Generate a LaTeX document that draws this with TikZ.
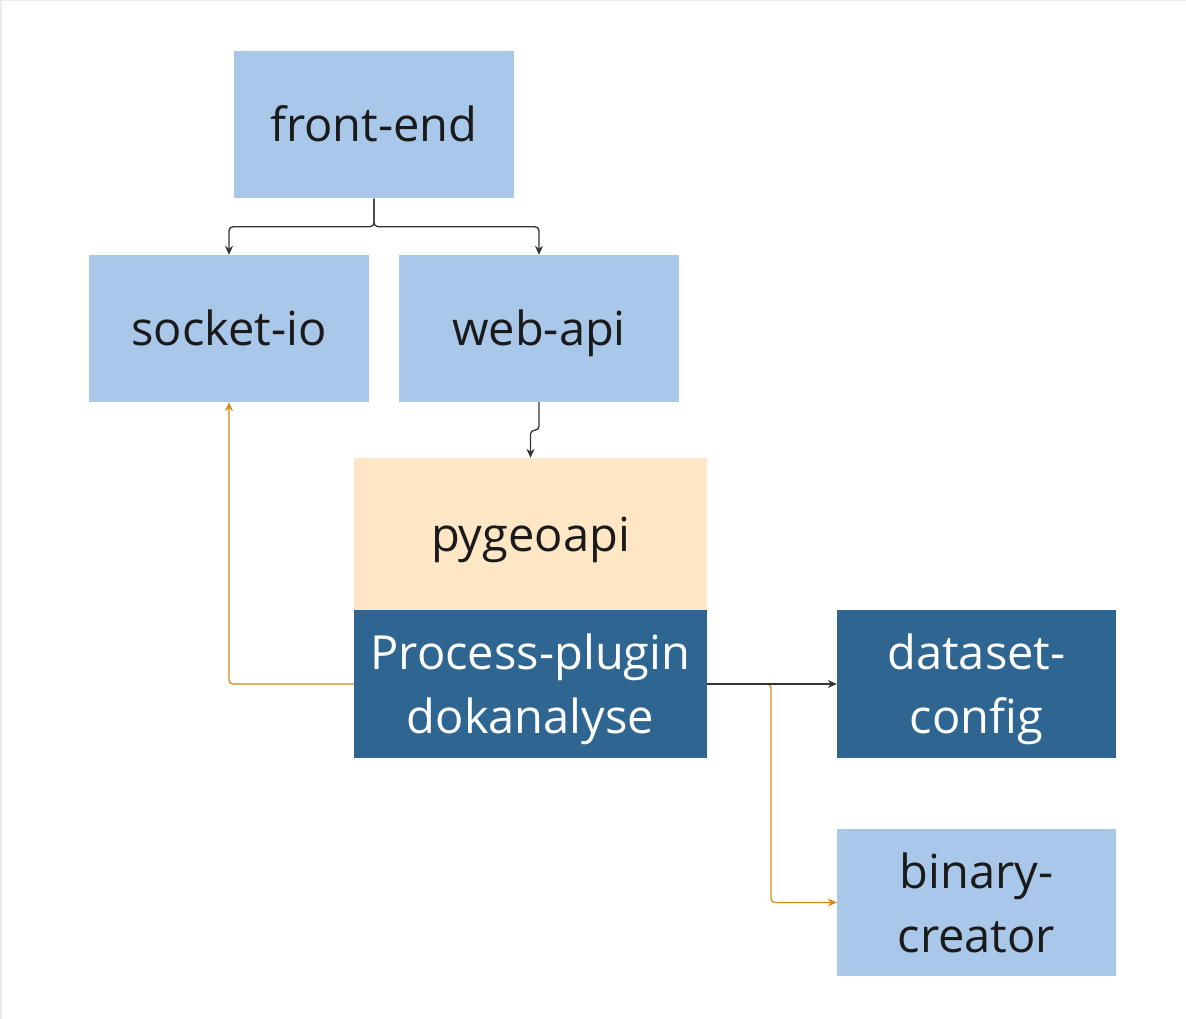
\documentclass[tikz,border=0pt]{standalone}
\usepackage{fontspec}
\setmainfont{Open Sans}
\usetikzlibrary{arrows.meta}
\definecolor{lblue}{HTML}{A9C7E9}
\definecolor{dblue}{HTML}{2E6591}
\definecolor{peach}{HTML}{FFE7C5}
\definecolor{ornge}{HTML}{D98A14}
\definecolor{txt}{HTML}{1A1A1A}
\definecolor{lnk}{HTML}{333333}
\begin{document}
\begin{tikzpicture}[x=1pt,y=-1pt,
  box/.style={minimum width=280pt,minimum height=147pt,inner sep=0pt,align=center,
    font=\fontsize{47}{64}\selectfont,text=txt},
  one/.style={text height=34pt,text depth=0pt},
  two/.style={text depth=0pt},
  light/.style={box,fill=lblue},
  dark/.style={box,fill=dblue,text=white},
  link/.style={draw=lnk,line width=1.3pt,rounded corners=4pt,-{Stealth[length=9pt,width=8pt]}},
  olink/.style={draw=ornge,line width=1.3pt,rounded corners=4pt,-{Stealth[length=9pt,width=8pt]}}]
\useasboundingbox (0,0) rectangle (1186,1019);
\draw[draw=black!8,line width=1.5pt] (0.75,1019) -- (0.75,0.75) -- (1186,0.75);
\node[light,one] (fe) at (374,125) {front-end};
\node[light,one] (sio) at (229,328.5) {socket-io};
\node[light,one] (wapi) at (539,328.5) {web-api};
\node[box,one,fill=peach,minimum width=353pt,minimum height=152pt] (pyg) at (530.5,534) {pygeoapi};
\node[dark,two,minimum width=353pt,minimum height=148pt] (pp) at (530.5,684) {Process-plugin\\dokanalyse};
\node[dark,two,minimum width=279pt,minimum height=148pt] (ds) at (976.5,684) {dataset-\\config};
\node[light,two,minimum width=279pt,minimum height=147pt] (bc) at (976.5,902.5) {binary-\\creator};
\coordinate (fs) at (fe.south);
\draw[link] (fs) -- ++(0,28) -| (sio.north);
\draw[link] (fs) -- ++(0,28) -| (wapi.north);
\draw[link] (wapi.south) -- ++(0,28) -| (pyg.north);
\draw[olink] (pp.west) -| (sio.south);
\draw[olink] (pp.east) -- (771,684) |- (bc.west);
\draw[link] (pp.east) -- (ds.west);
\end{tikzpicture}
\end{document}
